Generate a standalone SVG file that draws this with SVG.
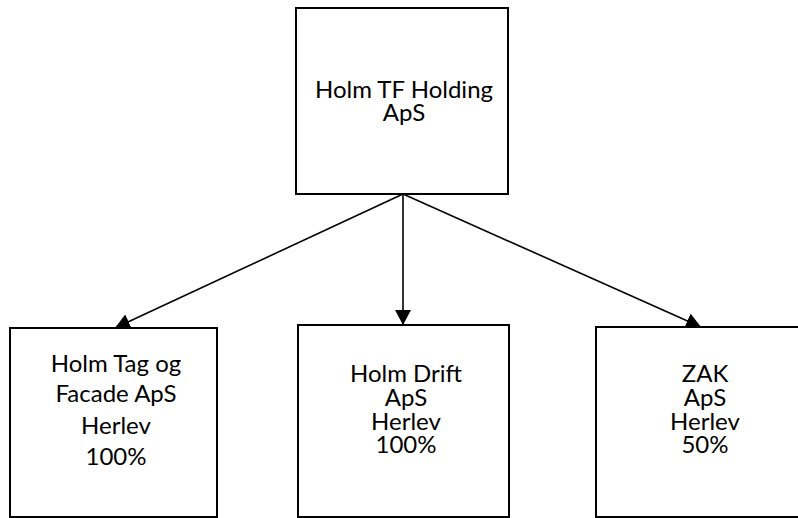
<svg xmlns="http://www.w3.org/2000/svg" width="798" height="518" viewBox="0 0 798 518">
  <defs>
    <style>
      .box { fill: #ffffff; stroke: #000000; stroke-width: 2; }
      .conn { stroke: #000000; stroke-width: 1.6; fill: none; marker-end: url(#arrow); }
      .lbl { font-family: Lato, "Liberation Sans", sans-serif; font-size: 24px; fill: #000000; text-anchor: middle; }
    </style>
    <marker id="arrow" viewBox="0 0 15 16" refX="15" refY="8" markerWidth="15" markerHeight="16" markerUnits="userSpaceOnUse" orient="auto">
      <path d="M0,0 L15,8 L0,16 Z" fill="#000000"/>
    </marker>
  </defs>
  <rect width="798" height="518" fill="#ffffff"/>
  <g id="connectors">
    <line class="conn" x1="403" y1="194" x2="115" y2="328"/>
    <line class="conn" x1="403" y1="194" x2="403" y2="325"/>
    <line class="conn" x1="403" y1="194" x2="701" y2="327"/>
  </g>
  <g id="node-holding">
    <rect class="box" x="296" y="8" width="212" height="186"/>
    <text class="lbl" x="404" y="98">Holm TF Holding</text>
    <text class="lbl" x="404" y="121">ApS</text>
  </g>
  <g id="node-tag">
    <rect class="box" x="10" y="328" width="207" height="189"/>
    <text class="lbl" x="116" y="372">Holm Tag og</text>
    <text class="lbl" x="116" y="402">Facade ApS</text>
    <text class="lbl" x="116" y="434">Herlev</text>
    <text class="lbl" x="116" y="465">100%</text>
  </g>
  <g id="node-drift">
    <rect class="box" x="298" y="325" width="211" height="192"/>
    <text class="lbl" x="406" y="382">Holm Drift</text>
    <text class="lbl" x="406" y="406">ApS</text>
    <text class="lbl" x="406" y="430">Herlev</text>
    <text class="lbl" x="406" y="453">100%</text>
  </g>
  <g id="node-zak">
    <rect class="box" x="596" y="327" width="210" height="190"/>
    <text class="lbl" x="705" y="382">ZAK</text>
    <text class="lbl" x="705" y="406">ApS</text>
    <text class="lbl" x="705" y="430">Herlev</text>
    <text class="lbl" x="705" y="453">50%</text>
  </g>
</svg>
